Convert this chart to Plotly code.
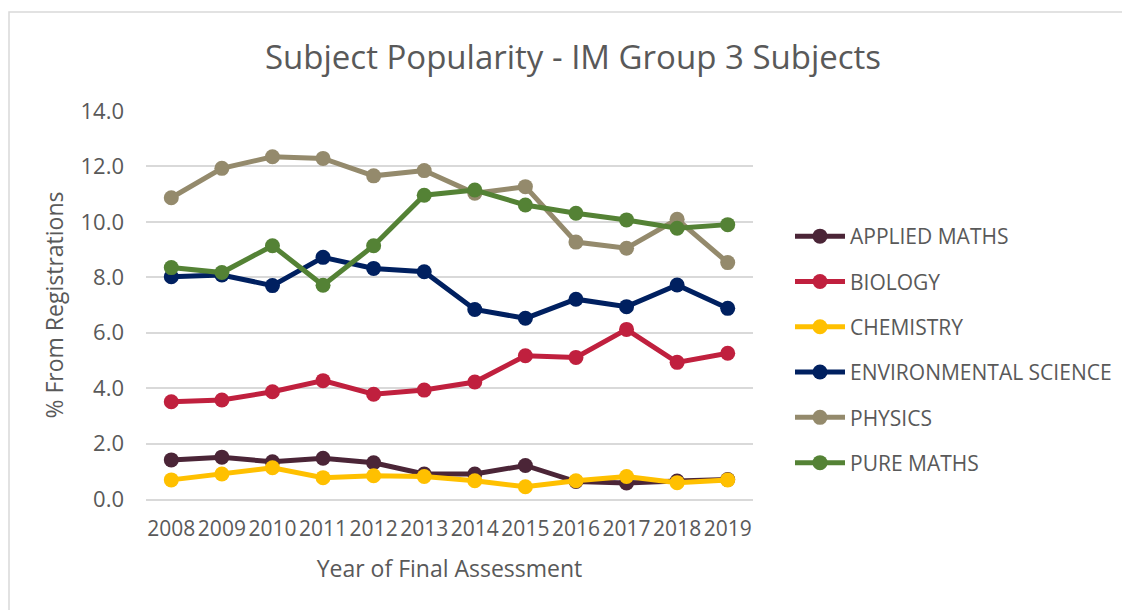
import plotly.graph_objects as go

years = ["2008", "2009", "2010", "2011", "2012", "2013", "2014", "2015", "2016", "2017", "2018", "2019"]

applied_maths = [1.41, 1.51, 1.34, 1.47, 1.31, 0.90, 0.90, 1.21, 0.63, 0.58, 0.65, 0.70]
biology = [3.51, 3.57, 3.87, 4.27, 3.78, 3.93, 4.22, 5.17, 5.11, 6.12, 4.93, 5.26]
chemistry = [0.69, 0.90, 1.13, 0.77, 0.84, 0.81, 0.66, 0.44, 0.66, 0.81, 0.59, 0.69]
environmental_science = [8.02, 8.08, 7.70, 8.72, 8.32, 8.20, 6.84, 6.52, 7.21, 6.94, 7.72, 6.88]
physics = [10.87, 11.93, 12.35, 12.29, 11.66, 11.85, 11.03, 11.27, 9.27, 9.05, 10.09, 8.53]
pure_maths = [8.35, 8.17, 9.14, 7.71, 9.14, 10.96, 11.15, 10.61, 10.31, 10.07, 9.77, 9.90]

series = [
    ("APPLIED MATHS", applied_maths, "#4B2537"),
    ("BIOLOGY", biology, "#C0203E"),
    ("CHEMISTRY", chemistry, "#FFC000"),
    ("ENVIRONMENTAL SCIENCE", environmental_science, "#002060"),
    ("PHYSICS", physics, "#948A6C"),
    ("PURE MATHS", pure_maths, "#548235"),
]

FONT = "Open Sans"
GREY = "#595959"

fig = go.Figure()
for name, vals, col in series:
    fig.add_trace(go.Scatter(
        x=years, y=vals, name=name, mode="lines+markers",
        line=dict(color=col, width=5),
        marker=dict(color=col, size=15),
        legendgroup=name,
    ))

# page offset of 8px (browser body margin)
OFF = 8
W, H = 1130, 610
L, R, T, B = 146 - OFF, 753 - OFF, 111 - OFF, 499 - OFF

def px(x):
    return (x - OFF - L) / (R - L)

def py(y):
    return (B - (y - OFF)) / (B - T)

fig.update_layout(
    width=W, height=H,
    margin=dict(l=L, r=W - R, t=T, b=H - B, autoexpand=False),
    paper_bgcolor="white", plot_bgcolor="white",
    font=dict(family=FONT, color=GREY),
    title=dict(text="Subject Popularity - IM Group 3 Subjects",
               xref="paper", x=px(573),
               font=dict(size=33, color=GREY, family=FONT),
               xanchor="center", yanchor="middle", y=1 - (57 - OFF) / H, yref="container"),
    legend=dict(x=px(790), y=py(216), xanchor="left", yanchor="top",
                font=dict(size=21, color=GREY, family=FONT),
                tracegroupgap=15, itemwidth=50, bgcolor="rgba(0,0,0,0)"),
    showlegend=True,
    shapes=[dict(type="rect", xref="paper", yref="paper",
                 x0=px(OFF + 1), x1=px(1150), y0=py(12), y1=py(630),
                 line=dict(color="#d9d9d9", width=1.5), fillcolor="rgba(0,0,0,0)",
                 layer="below")],
)

fig.update_xaxes(
    type="category", range=[-0.5, 11.5], showgrid=False,
    showline=True, linecolor="#d9d9d9", linewidth=1.5,
    tickangle=0, ticks="", ticklabelstandoff=10,
    tickfont=dict(size=21, color=GREY, family=FONT),
    title=dict(text="Year of Final Assessment", font=dict(size=23, color=GREY, family=FONT), standoff=20),
)
fig.update_yaxes(
    range=[0, 14], dtick=2, tickformat=".1f",
    showgrid=True, gridcolor="#d9d9d9", gridwidth=1.5, zeroline=False,
    showline=False, ticks="", ticklabelstandoff=21,
    tickfont=dict(size=22, color=GREY, family=FONT),
    title=dict(text="% From Registrations", font=dict(size=23, color=GREY, family=FONT), standoff=10),
)

fig.write_html("out.html")
